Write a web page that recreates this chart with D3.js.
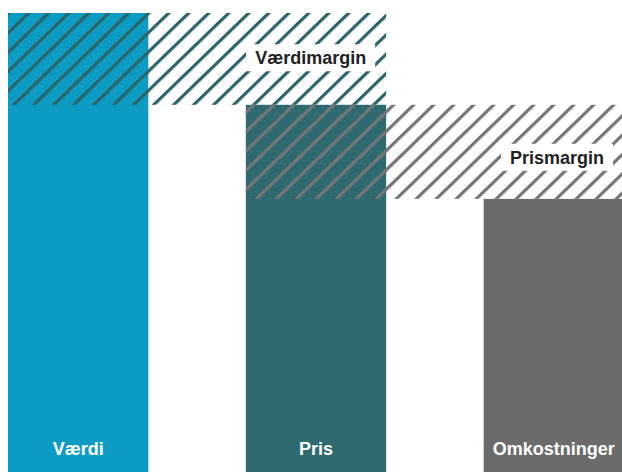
<!DOCTYPE html>
<html>
<head>
<meta charset="utf-8">
<script src="https://cdn.jsdelivr.net/npm/d3@7"></script>
<style>
  html, body { margin: 0; padding: 0; background: #fff; }
  svg { display: block; }
  text { font-family: "Liberation Sans", Arial, sans-serif; font-weight: bold; font-size: 18px; }
</style>
</head>
<body>
<div id="chart"></div>
<script>
const categories = ['Værdi', 'Pris', 'Omkostninger'];
const values = [100, 80, 59.5];
const marginLabels = ['Værdimargin', 'Prismargin'];

const width = 622;
const height = 472;
const barColors = ['#0c9cc3', '#2e6a70', '#6b6b6b'];
const hatchColors = ['#2b6469', '#757575'];
// where the margin label sits inside its band (0 = top, 1 = bottom)
const labelPos = [0.49, 0.56];

const svg = d3.select('#chart')
  .append('svg')
    .attr('width', width)
    .attr('height', height);

const x = d3.scaleBand()
  .domain(categories)
  .range([8, 624])
  .paddingInner(0.41)
  .paddingOuter(0);

const y = d3.scaleLinear()
  .domain([0, 100])
  .range([height, 13]);

// diagonal hatch patterns
const angle = 44;
const hPeriod = 20;
const spacing = hPeriod * Math.sin(angle * Math.PI / 180);
const defs = svg.append('defs');
hatchColors.forEach((c, i) => {
  const p = defs.append('pattern')
      .attr('id', `hatch${i}`)
      .attr('patternUnits', 'userSpaceOnUse')
      .attr('width', spacing)
      .attr('height', 10)
      .attr('patternTransform', `rotate(${90 - angle})`);
  p.append('rect')
      .attr('x', 0)
      .attr('y', 0)
      .attr('width', 3.2)
      .attr('height', 10)
      .attr('fill', c);
});

// bars
svg.selectAll('rect.bar')
  .data(categories)
  .join('rect')
    .attr('class', 'bar')
    .attr('x', d => x(d))
    .attr('y', (d, i) => y(values[i]))
    .attr('width', x.bandwidth())
    .attr('height', (d, i) => y(0) - y(values[i]))
    .attr('fill', (d, i) => barColors[i]);

// margins between neighbouring bars
const margins = marginLabels.map((label, i) => ({
  label,
  i,
  x0: x(categories[i]),
  x1: x(categories[i + 1]) + x.bandwidth(),
  top: values[i],
  bottom: values[i + 1]
}));

svg.selectAll('rect.margin')
  .data(margins)
  .join('rect')
    .attr('class', 'margin')
    .attr('x', d => d.x0)
    .attr('y', d => y(d.top))
    .attr('width', d => d.x1 - d.x0)
    .attr('height', d => y(d.bottom) - y(d.top))
    .attr('fill', d => `url(#hatch${d.i})`);

const labelG = svg.selectAll('g.mlabel')
  .data(margins)
  .join('g')
    .attr('class', 'mlabel');

labelG.append('rect')
    .attr('fill', '#fff');

const labelText = labelG.append('text')
    .attr('x', d => d.x1 - 20)
    .attr('y', d => y(d.top) + (y(d.bottom) - y(d.top)) * labelPos[d.i])
    .attr('dy', '0.35em')
    .attr('text-anchor', 'end')
    .attr('fill', '#222')
    .text(d => d.label);

labelText.each(function (d) {
  const b = this.getBBox();
  d3.select(this.parentNode).select('rect')
      .attr('x', b.x - 9)
      .attr('y', b.y - 4)
      .attr('width', b.width + 18)
      .attr('height', b.height + 7);
});

// category labels at the foot of the bars
svg.selectAll('text.cat')
  .data(categories)
  .join('text')
    .attr('class', 'cat')
    .attr('x', d => x(d) + x.bandwidth() / 2)
    .attr('y', 455)
    .attr('text-anchor', 'middle')
    .attr('fill', '#fff')
    .text(d => d);
</script>
</body>
</html>
